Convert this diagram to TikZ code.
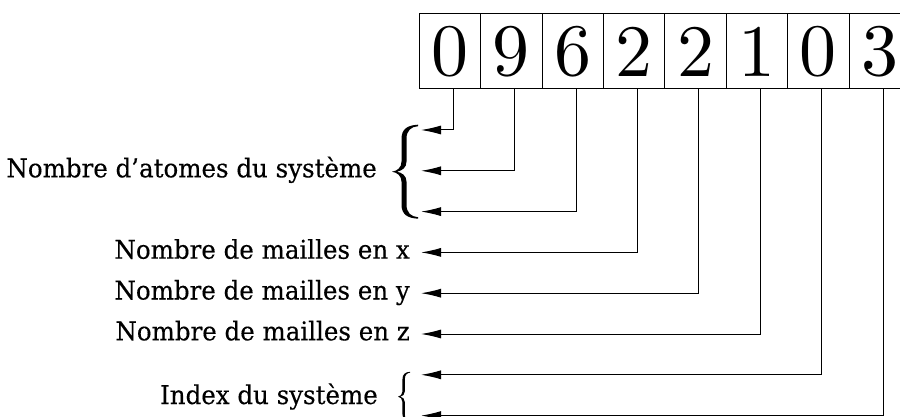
\documentclass[tikz,border=0pt]{standalone}
\usepackage{fontspec}
\setmainfont{DejaVu Serif}[FakeStretch=0.95,FakeBold=0.3]
\newfontfamily\lmfont{lmroman10-regular}[Extension=.otf]
\usetikzlibrary{arrows.meta,calc}
\begin{document}
\begin{tikzpicture}[x=1pt,y=-1pt,
  digit/.style={draw,line width=1pt,minimum width=61.4pt,minimum height=75pt,inner sep=0pt,font=\lmfont\fontsize{74}{80}\selectfont},
  lbl/.style={inner sep=0pt,font=\fontsize{25.8}{30}\selectfont},
  conn/.style={line width=1pt,-{Latex[length=20pt,width=9pt]}},
  bigbrace/.pic={
    \fill (26,-47) .. controls (16,-46.5) and (9.5,-43) .. (9.5,-33) -- (9.5,-10)
      .. controls (9.5,-4) and (5,-0.7) .. (0,0) .. controls (5,0.7) and (9.5,4) .. (9.5,10)
      -- (9.5,33) .. controls (9.5,43) and (16,46.5) .. (26,47)
      -- (26,45.5) .. controls (19,45) and (14.5,41) .. (14.5,33) -- (14.5,10)
      .. controls (14.5,4) and (10,1) .. (5,0) .. controls (10,-1) and (14.5,-4) .. (14.5,-10)
      -- (14.5,-33) .. controls (14.5,-41) and (19,-45) .. (26,-45.5) -- cycle;
  }]
\useasboundingbox (0,0) rectangle (900,417);
\clip (0,0) rectangle (900,417);
\foreach \d [count=\i from 0] in {0,9,6,2,2,1,0,3} {
  \node[digit] (d\i) at (450+61.4*\i,51.5) {\d};
}
\node[lbl,anchor=base east] (atoms) at (377,177.3) {Nombre d'atomes du système};
\pic at (392,171.7) {bigbrace};
\node[lbl,anchor=base east] (lx) at (410,258.7) {Nombre de mailles en x};
\node[lbl,anchor=base east] (ly) at (410,299.5) {Nombre de mailles en y};
\node[lbl,anchor=base east] (lz) at (410,340.3) {Nombre de mailles en z};
\node[lbl,anchor=base east] (idx) at (378,404) {Index du système};
\pic[xscale=0.47,yscale=0.53] at (398,396.7) {bigbrace};
\foreach \i in {0,...,7} {
  \coordinate (t\i) at (421,130+40.8*\i);
  \draw[conn] ($(d\i.south)+(3.3,0)$) |- (t\i);
}
\end{tikzpicture}
\end{document}
